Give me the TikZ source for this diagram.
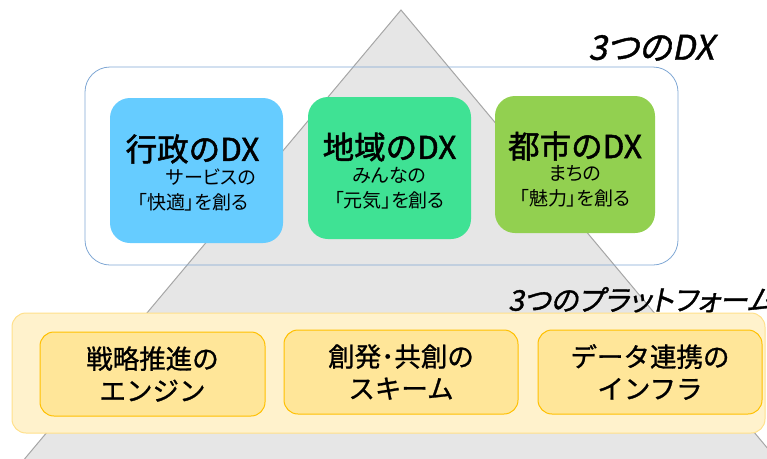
\documentclass[tikz,border=0pt]{standalone}
\usepackage{fontspec}
\setmainfont{Noto Sans CJK JP}
\newfontfamily\jpit[FakeSlant=0.2,FakeBold=1.2,RawFeature={+palt}]{Noto Sans CJK JP}
\newfontfamily\jpmed[FakeBold=1.6]{Noto Sans CJK JP}
\newfontfamily\jppal[RawFeature={+palt}]{Noto Sans CJK JP}
\newfontfamily\jpplat[FakeBold=1]{Noto Sans CJK JP}
\definecolor{trifill}{HTML}{E6E6E6}
\definecolor{triline}{HTML}{A6A6A6}
\definecolor{frameblue}{HTML}{7FA7D4}
\definecolor{cblue}{HTML}{66CCFF}
\definecolor{cgreen}{HTML}{3FE294}
\definecolor{clime}{HTML}{92D050}
\definecolor{platfill}{HTML}{FFF2CC}
\definecolor{platline}{HTML}{FFE08A}
\definecolor{boxfill}{HTML}{FFE699}
\definecolor{boxline}{HTML}{FFC000}
\tikzset{
  dxbox/.style={rounded corners=20pt, draw=none},
  platbox/.style={rounded corners=14pt, draw=boxline, fill=boxfill, line width=1pt},
  title/.style={font=\fontsize{31.5}{33}\selectfont\jpmed, inner sep=0pt},
  sub/.style={font=\fontsize{19}{21}\selectfont\jppal, inner sep=0pt},
  plat/.style={font=\fontsize{26.5}{32}\selectfont\jpplat, align=center, inner sep=0pt},
  head/.style={font=\fontsize{34}{36}\selectfont\jpit, inner sep=0pt},
}
\begin{document}
\begin{tikzpicture}[x=1pt,y=-1pt]
\useasboundingbox (0,0) rectangle (767,458);
\clip (0,0) rectangle (767,458);
% pyramid
\draw[triline, fill=trifill, line width=1pt] (401,10) -- (779,462) -- (22,462) -- cycle;
% top frame
\draw[frameblue, line width=0.8pt, rounded corners=25pt] (85,67) rectangle (678,265);
\node[head, anchor=south west] (hdx) at (588,61) {3つのDX};
% DX boxes
\fill[cblue, dxbox] (110,98) rectangle (283,243);
\fill[cgreen, dxbox] (308,97) rectangle (471,239);
\fill[clime, dxbox] (495,96) rectangle (655,233);
\node[title] (t1) at (192.5,149) {行政のDX};
\node[sub] (s1a) at (211,177) {サービスの};
\node[sub] (s1b) at (193,202) {「快適」を創る};
\node[title] (t2) at (389.5,147) {地域のDX};
\node[sub] (s2a) at (389.5,175) {みんなの};
\node[sub] (s2b) at (389.5,200) {「元気」を創る};
\node[title] (t3) at (575,146) {都市のDX};
\node[sub] (s3a) at (575,174) {まちの};
\node[sub] (s3b) at (575,198) {「魅力」を創る};
% platform
\node[head, anchor=south west, font=\fontsize{28.5}{30}\selectfont\jpit] (hpf) at (508,313) {3つのプラットフォーム};
\draw[platline, fill=platfill, line width=1pt, rounded corners=14pt] (12,313) rectangle (765,433);
\draw[platbox] (40,332) rectangle (265,416);
\draw[platbox] (284,330) rectangle (518,414);
\draw[platbox] (538,330) rectangle (762,414);
\node[plat] (p1) at (152.5,374) {戦略推進の\\エンジン};
\node[plat] (p2) at (401,372) {創発･共創の\\スキーム};
\node[plat] (p3) at (650,372) {データ連携の\\インフラ};
\end{tikzpicture}
\end{document}
